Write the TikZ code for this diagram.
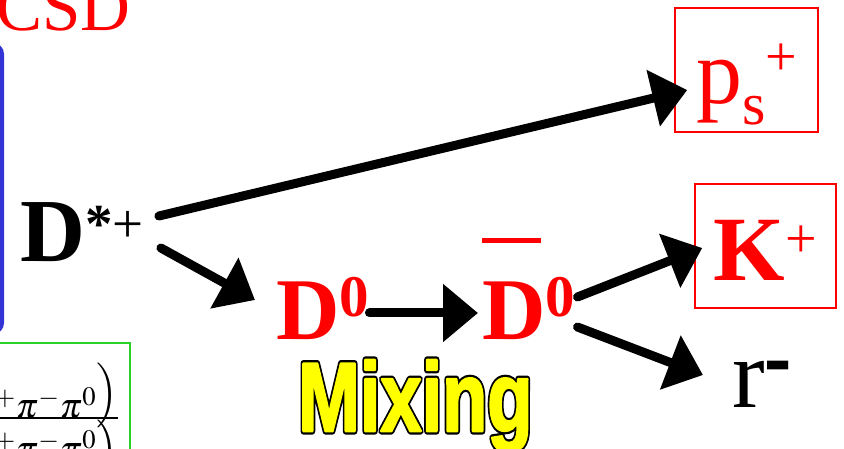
\documentclass[tikz,border=0pt]{standalone}
\usepackage{mathptmx}
\usepackage{fontspec}
\setmainfont{Liberation Serif}
\newfontfamily\mixfont{Liberation Sans}
\usepackage{graphicx}
\usetikzlibrary{arrows.meta, positioning}
\definecolor{slidered}{RGB}{255,0,0}
\definecolor{frameblue}{RGB}{51,51,214}
\definecolor{boxgreen}{RGB}{40,210,40}
\definecolor{mixyellow}{RGB}{255,255,0}
\newcommand{\setsz}[1]{\fontsize{#1}{#1}\selectfont}
% outlined text: thick black stroke below, yellow on top
\newcommand{\outlined}[1]{\rlap{\special{pdf:literal direct 1 j 0 G 7 w 2 Tr}#1}%
    \special{pdf:literal direct 1 j 1 1 0 RG 2.5 w 2 Tr}#1\special{pdf:literal direct 0 Tr 0 j}}

\begin{document}
\begin{tikzpicture}[x=1pt, y=-1pt,
        part/.style={inner sep=0pt, anchor=base west},
        sel/.style={draw=slidered, line width=1.5pt, inner sep=0pt, anchor=base, text=slidered},
        arrow/.style={-{Triangle[length=35pt,width=56pt]}, line width=9pt, line cap=round}
    ]
        \useasboundingbox (0,0) rectangle (844,449);
        \clip (0,0) rectangle (844,449);

        % parts of the slide that the frame cuts off
        \node[part, text=slidered] (title) at (-4,31) {\setsz{69}CSD};
        \draw[frameblue, line width=4pt, rounded corners=9pt] (-40,45) rectangle (2,332);
        \draw[boxgreen, line width=1.5pt] (-40,343) rectangle (130,480);
        \node[inner sep=0pt, anchor=base east] (ratio) at (119,427)
            {\setsz{36}$\displaystyle\frac{\smash{\raisebox{-16pt}{$\raisebox{14pt}{$\Bigl($}K^+\pi^-\pi^0\raisebox{14pt}{$\Bigr)$}$}}}
                {\smash{\raisebox{-10pt}{$\Bigl(K^+\pi^-\pi^0\Bigr)$}}}$};

        % decay chain
        \node[part] (dstar) at (20,262) {\setsz{90}\bfseries D\raisebox{20pt}{\setsz{55}*\mdseries +}};
        \node[part, text=slidered] (dzero) at (276,340) {\setsz{88}\bfseries D\raisebox{24pt}{\setsz{59}0}};
        \node[part, text=slidered] (dbar) at (482,340)
            {\setsz{88}\bfseries\rlap{\raisebox{97pt}{\rule{59pt}{5pt}}}D\raisebox{24pt}{\setsz{59}0}};
        \node[sel, minimum width=143pt, text height=96pt, text depth=28pt] (pions) at (746.5,104)
            {\setsz{92}p\raisebox{-21pt}{\setsz{60}s}\raisebox{28pt}{\setsz{56}+}};
        \node[sel, minimum width=141pt, text height=97pt, text depth=27pt] (kplus) at (765.5,281)
            {\setsz{92}\bfseries K\raisebox{24pt}{\setsz{56}\mdseries +}};
        \node[part] (pim) at (732,407) {\setsz{98}r\raisebox{18pt}{\setsz{68}\bfseries\scalebox{1.2}[1.5]{-}}};

        % outlined yellow label
        \node[part] (mix) at (298,431)
            {\setsz{98}\mixfont\bfseries\color{mixyellow}\outlined{\scalebox{0.755}[1]{Mixing}}};

        \draw[arrow] ([xshift=15pt,yshift=46pt]dstar.base east) -- ([xshift=13pt,yshift=-20pt]pions.west);
        \draw[arrow] ([xshift=17pt,yshift=14pt]dstar.base east) -- ([xshift=-21pt,yshift=40pt]dzero.base west);
        \draw[arrow] ([yshift=27pt]dzero.base east) -- ([xshift=-4pt,yshift=27pt]dbar.base west);
        \draw[arrow] ([xshift=2pt,yshift=43pt]dbar.base east) -- ([xshift=8pt,yshift=-2pt]kplus.west);
        \draw[arrow] ([xshift=2pt,yshift=13pt]dbar.base east) -- ([xshift=-29pt,yshift=32pt]pim.base west);
    \end{tikzpicture}
\end{document}
